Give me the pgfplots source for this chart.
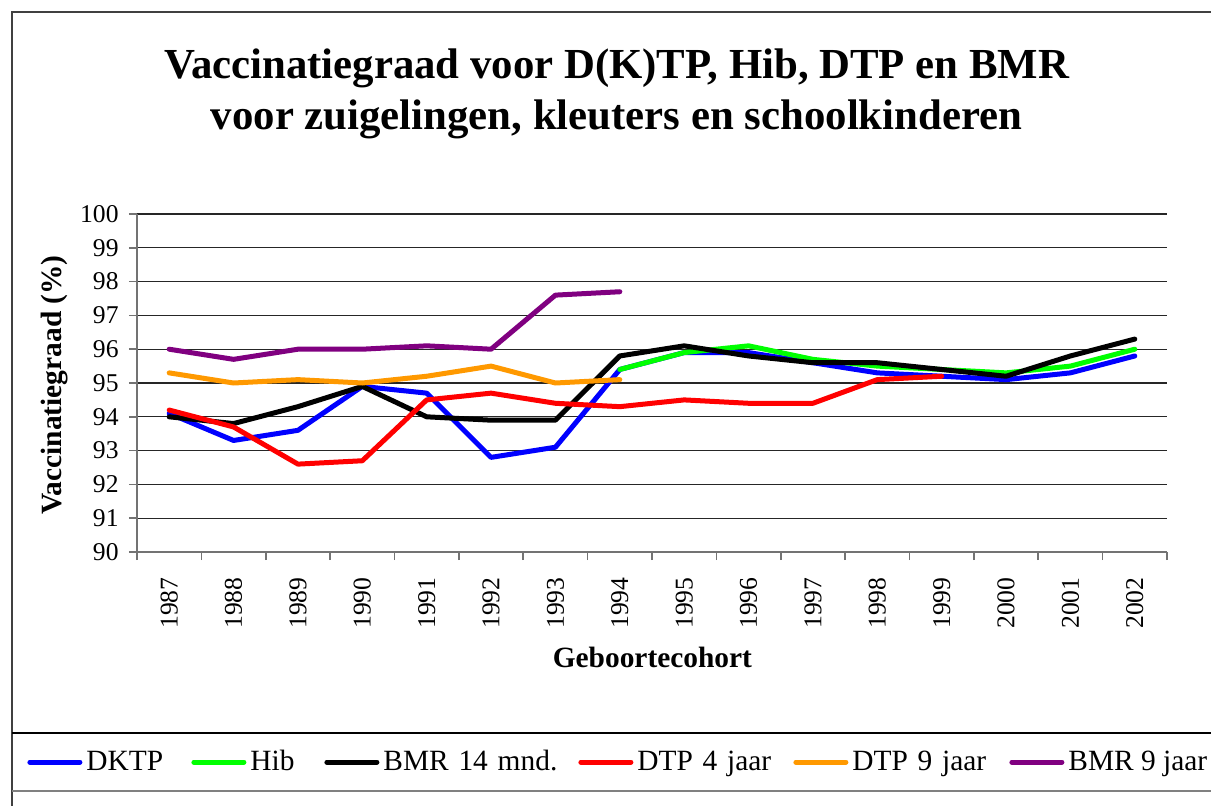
\documentclass[border=0pt]{standalone}
\usepackage{fontspec}
\setmainfont{Liberation Serif}
\usepackage{pgfplots}
\pgfplotsset{compat=1.18}
\definecolor{cblue}{RGB}{0,0,255}
\definecolor{cgreen}{RGB}{0,255,0}
\definecolor{cred}{RGB}{255,0,0}
\definecolor{corange}{RGB}{255,153,0}
\definecolor{cpurple}{RGB}{128,0,128}
\begin{document}
\begin{tikzpicture}
\useasboundingbox (0,0) rectangle (605.5pt,402.5pt);
% chart frame and legend box
\draw[black!75, line width=0.6pt] (6pt,-2pt) -- (6pt,396.5pt) -- (612pt,396.5pt);
\draw[black, line width=0.6pt] (6pt,36pt) -- (612pt,36pt);
\draw[black!50, line width=1pt] (6pt,7pt) -- (612pt,7pt);
% title
\node[font=\bfseries\fontsize{21.4}{25.5}\selectfont, anchor=base, inner sep=0pt] at (308.3pt,363pt) {Vaccinatiegraad voor D(K)TP, Hib, DTP en BMR};
\node[font=\bfseries\fontsize{21.4}{25.5}\selectfont, anchor=base, inner sep=0pt] at (308.3pt,337.5pt) {voor zuigelingen, kleuters en schoolkinderen};
% axis labels
\node[font=\bfseries\fontsize{14.7}{17}\selectfont, anchor=base, rotate=90, inner sep=0pt] at (31pt,210pt) {Vaccinatiegraad (\%)};
\node[font=\bfseries\fontsize{14.7}{17}\selectfont, anchor=base, inner sep=0pt] at (326.2pt,69pt) {Geboortecohort};
\begin{axis}[
  at={(68.5pt,126.5pt)}, anchor=south west,
  scale only axis, width=515pt, height=169pt,
  xmin=-0.5, xmax=15.5, ymin=90, ymax=100,
  axis x line*=bottom, axis y line*=left,
  axis line style={black!55, line width=0.8pt},
  xtick={0,...,15},
  xticklabels={1987,1988,1989,1990,1991,1992,1993,1994,1995,1996,1997,1998,1999,2000,2001,2002},
  minor xtick={-0.5,0.5,...,15.5},
  ytick={90,91,...,100},
  ymajorgrids,
  major grid style={black!85, line width=0.6pt},
  tick align=outside,
  major tick length=4pt, minor tick length=4pt,
  tick style={black!55, line width=0.8pt},
  major x tick style={draw=none},
  tick label style={font=\fontsize{12.8}{15}\selectfont},
  /pgf/number format/assume math mode=true,
  xticklabel style={rotate=90, anchor=east, inner sep=0pt},
  xticklabel shift=8.5pt,
  yticklabel style={anchor=east, inner sep=0pt, xshift=-5pt},
  every axis plot/.append style={line width=2.5pt, line cap=round, line join=round},
  legend columns=6,
  legend style={draw=none, fill=none, inner sep=0pt,
    at={(axis description cs:-0.1068,-0.6213)}, anchor=west,
    font=\fontsize{14.7}{17}\selectfont,
    nodes={inner sep=0pt},
    column sep=0pt,
    /tikz/column 2/.style={nodes={text width=52.5pt, align=left}},
    /tikz/column 4/.style={nodes={text width=37pt, align=left}},
    /tikz/column 6/.style={nodes={text width=97.5pt, align=left}},
    /tikz/column 8/.style={nodes={text width=78pt, align=left}},
    /tikz/column 10/.style={nodes={text width=78.5pt, align=left}},
  },
  legend image code/.code={\draw[#1] (0pt,0pt) -- (25pt,0pt); \path (27pt,0pt);},
]
\addplot[cblue] coordinates {(0,94.1)(1,93.3)(2,93.6)(3,94.9)(4,94.7)(5,92.8)(6,93.1)(7,95.4)(8,95.9)(9,95.9)(10,95.6)(11,95.3)(12,95.2)(13,95.1)(14,95.3)(15,95.8)};
\addlegendentry{DKTP}
\addplot[cgreen] coordinates {(7,95.4)(8,95.9)(9,96.1)(10,95.7)(11,95.5)(12,95.4)(13,95.3)(14,95.5)(15,96.0)};
\addlegendentry{Hib}
\addplot[black] coordinates {(0,94.0)(1,93.8)(2,94.3)(3,94.9)(4,94.0)(5,93.9)(6,93.9)(7,95.8)(8,96.1)(9,95.8)(10,95.6)(11,95.6)(12,95.4)(13,95.2)(14,95.8)(15,96.3)};
\addlegendentry{BMR 14 mnd.}
\addplot[cred] coordinates {(0,94.2)(1,93.7)(2,92.6)(3,92.7)(4,94.5)(5,94.7)(6,94.4)(7,94.3)(8,94.5)(9,94.4)(10,94.4)(11,95.1)(12,95.2)};
\addlegendentry{DTP 4 jaar}
\addplot[corange] coordinates {(0,95.3)(1,95.0)(2,95.1)(3,95.0)(4,95.2)(5,95.5)(6,95.0)(7,95.1)};
\addlegendentry{DTP 9 jaar}
\addplot[cpurple] coordinates {(0,96.0)(1,95.7)(2,96.0)(3,96.0)(4,96.1)(5,96.0)(6,97.6)(7,97.7)};
\addlegendentry{BMR 9 jaar}
\end{axis}
\end{tikzpicture}
\end{document}
